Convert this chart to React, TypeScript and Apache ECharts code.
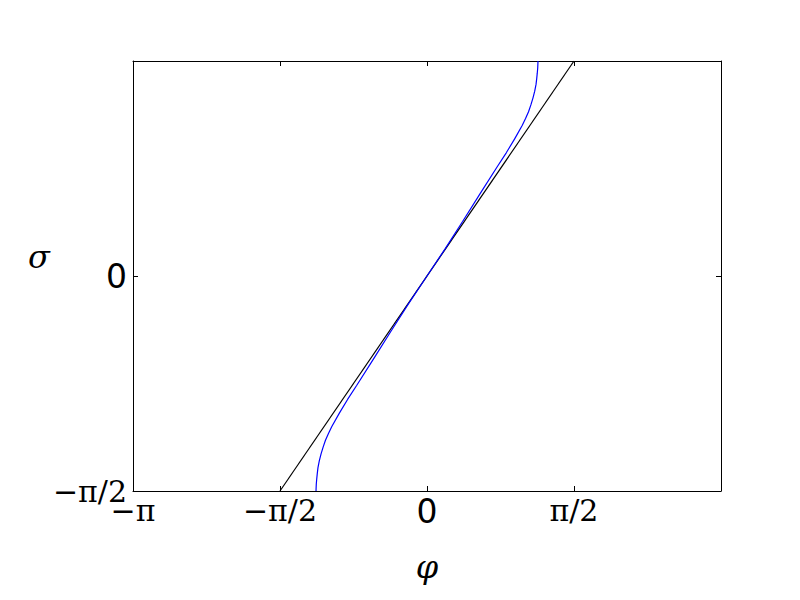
import React, { useEffect, useRef } from "react";
import * as echarts from "echarts";

const PI = Math.PI;

// Tick values and labels
const xTickValues = [-PI, -PI / 2, 0, PI / 2, PI];
const xTickLabels = ["−π", "−π/2", "0", "π/2", ""];
const yTickValues = [-PI / 2, 0, PI / 2];
const yTickLabels = ["−π/2", "0", ""];

// Blue curve: sigma (vertical) and phi (horizontal)
const curveSigma = [
  -1.5708, -1.55, -1.52, -1.48, -1.44, -1.4, -1.35, -1.3, -1.25, -1.2, -1.15, -1.1, -1.0, -0.9, -0.8, -0.6, -0.4, -0.2,
  0, 0.2, 0.4, 0.6, 0.8, 0.9, 1.0, 1.1, 1.15, 1.2, 1.25, 1.3, 1.35, 1.4, 1.44, 1.48, 1.52, 1.55, 1.5708,
];
const curvePhi = [
  -1.186, -1.185, -1.183, -1.178, -1.172, -1.165, -1.151, -1.132, -1.11, -1.085, -1.053, -1.017, -0.935, -0.847, -0.752, -0.566, -0.382, -0.195,
  0, 0.195, 0.382, 0.566, 0.752, 0.847, 0.935, 1.017, 1.053, 1.085, 1.11, 1.132, 1.151, 1.165, 1.172, 1.178, 1.183, 1.185, 1.186,
];

// Black reference line sigma = phi
const linePhi = [-PI / 2, PI / 2];
const lineSigma = [-PI / 2, PI / 2];

function labelFor(values: number[], labels: string[], v: number) {
  for (let i = 0; i < values.length; i++) {
    if (Math.abs(values[i] - v) < 1e-6) {
      const t = labels[i];
      if (t === "") return "";
      return t === "0" ? `{n|${t}}` : `{m|${t}}`;
    }
  }
  return "";
}

const rich = {
  m: { fontFamily: "DejaVu Serif", fontSize: 30, color: "#000" },
  n: { fontFamily: "DejaVu Sans", fontSize: 33, color: "#000" },
};

export default function App() {
  const ref = useRef<HTMLDivElement>(null);
  useEffect(() => {
    if (!ref.current) return;
    const chart = echarts.init(ref.current, undefined, { renderer: "svg" });
    const tick = { show: true, inside: true, length: 5, lineStyle: { color: "#000", width: 1 } };
    const xBase = {
      type: "value" as const,
      min: -PI,
      max: PI,
      interval: PI / 2,
      splitLine: { show: false },
      axisLine: { show: true, onZero: false, lineStyle: { color: "#000", width: 1 } },
      axisTick: tick,
    };
    const yBase = {
      type: "value" as const,
      min: -PI / 2,
      max: PI / 2,
      interval: PI / 2,
      splitLine: { show: false },
      axisLine: { show: true, onZero: false, lineStyle: { color: "#000", width: 1 } },
      axisTick: tick,
    };
    chart.setOption({
      animation: false,
      backgroundColor: "#fff",
      grid: { left: 133, right: 79, top: 61, bottom: 109, containLabel: false },
      xAxis: [
        {
          ...xBase,
          position: "bottom",
          axisLabel: {
            show: true,
            margin: 4,
            showMinLabel: true,
            showMaxLabel: true,
            formatter: (v: number) => labelFor(xTickValues, xTickLabels, v),
            rich,
          },
        },
        { ...xBase, position: "top", axisLabel: { show: false } },
      ],
      yAxis: [
        {
          ...yBase,
          position: "left",
          axisLabel: {
            show: true,
            margin: 6,
            showMinLabel: true,
            showMaxLabel: true,
            formatter: (v: number) => labelFor(yTickValues, yTickLabels, v),
            rich,
          },
        },
        { ...yBase, position: "right", axisLabel: { show: false } },
      ],
      series: [
        {
          type: "line",
          xAxisIndex: 0,
          yAxisIndex: 0,
          data: curvePhi.map((p, i) => [p, curveSigma[i]]),
          showSymbol: false,
          smooth: false,
          lineStyle: { color: "#0000ff", width: 1.2 },
          z: 3,
        },
        {
          type: "line",
          xAxisIndex: 0,
          yAxisIndex: 0,
          data: linePhi.map((p, i) => [p, lineSigma[i]]),
          showSymbol: false,
          lineStyle: { color: "#000000", width: 1.2 },
          z: 2,
        },
      ],
      graphic: [
        {
          type: "text",
          x: 39,
          y: 257,
          style: {
            text: "σ",
            fontFamily: "DejaVu Serif",
            fontStyle: "italic",
            fontSize: 32,
            fill: "#000",
            align: "center",
            verticalAlign: "middle",
          },
        },
        {
          type: "text",
          x: 427,
          y: 567,
          style: {
            text: "φ",
            fontFamily: "DejaVu Serif",
            fontStyle: "italic",
            fontSize: 32,
            fill: "#000",
            align: "center",
            verticalAlign: "middle",
          },
        },
      ],
    });
    return () => chart.dispose();
  }, []);
  return <div ref={ref} style={{ position: "absolute", left: 0, top: 0, width: 800, height: 600 }} />;
}
